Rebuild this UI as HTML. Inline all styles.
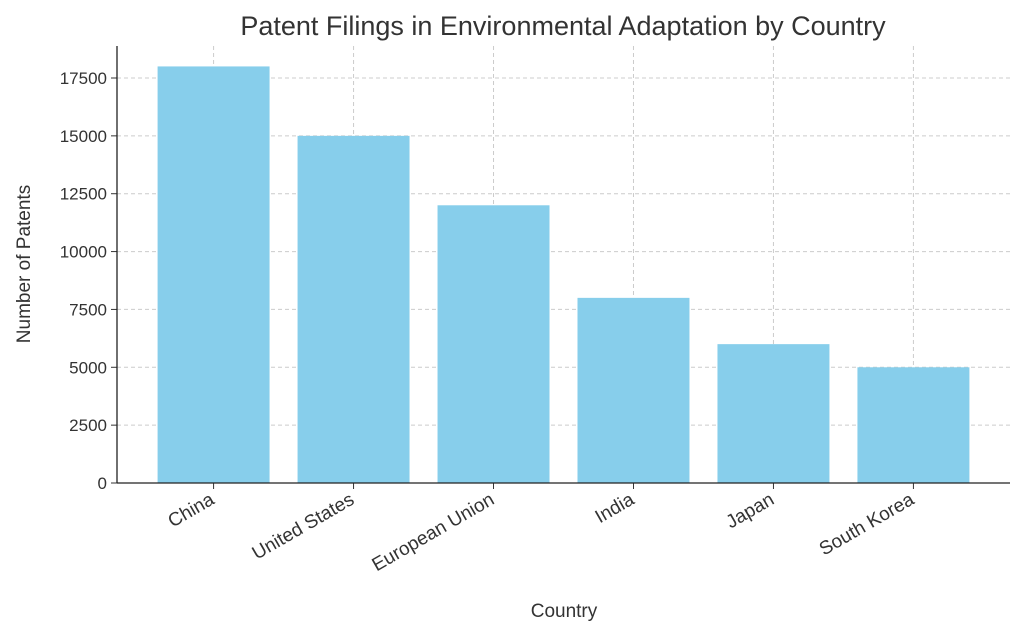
<!DOCTYPE html>
<html><head><meta charset="utf-8"><style>
body{margin:0;background:#fff;}
svg text{font-family:"Liberation Sans","DejaVu Sans",sans-serif;fill:#333;}
</style></head><body>
<svg id="chart" width="1024" height="635" xmlns="http://www.w3.org/2000/svg">
<text x="563" y="35" font-size="27" text-anchor="middle">Patent Filings in Environmental Adaptation by Country</text>
<g id="grid"></g><g id="bars"></g><g id="axes"></g>
<text x="564" y="617" font-size="19" text-anchor="middle">Country</text>
<text transform="translate(30,264) rotate(-90)" font-size="19" text-anchor="middle">Number of Patents</text>
</svg>
<script>
const categories=["China","United States","European Union","India","Japan","South Korea"];
const values=[18000,15000,12000,8000,6000,5000];
const yTicks=[0,2500,5000,7500,10000,12500,15000,17500];
const NS="http://www.w3.org/2000/svg";
const L=117,R=1010,B=483,T=46;
const xMin=-0.69,xMax=categories.length-1+0.69;
const yMax=18900;
function x(i){return L+(i-xMin)/(xMax-xMin)*(R-L);}
function y(v){return B-v/17500*(B-78);}
const bw=0.8*(x(1)-x(0));
function mk(tag,attrs,parent){const e=document.createElementNS(NS,tag);for(const k in attrs)e.setAttribute(k,attrs[k]);document.getElementById(parent).appendChild(e);return e;}
yTicks.forEach(t=>{
 const g=mk('line',{x1:L,x2:R,y1:y(t),y2:y(t),stroke:'#ccc','stroke-dasharray':'4,3','stroke-width':1},'grid');
 
 
 const tk=mk('line',{x1:L-6,x2:L,y1:y(t),y2:y(t),stroke:'#333'},'axes');
 
 
 const lb=mk('text',{x:L-10,y:y(t)+6,'font-size':17,'text-anchor':'end'},'axes');
 lb.textContent=t;
 
 
});
categories.forEach((c,i)=>{
 const g=mk('line',{x1:x(i),x2:x(i),y1:T,y2:B,stroke:'#ccc','stroke-dasharray':'4,3'},'grid');
 
 
 const r=mk('rect',{x:x(i)-bw/2,y:y(values[i]),width:bw,height:B-y(values[i]),fill:'#87ceeb'},'bars');
 
 
 const tk=mk('line',{x1:x(i),x2:x(i),y1:B,y2:B+6,stroke:'#333'},'axes');
 
 
 const lb=mk('text',{transform:`translate(${x(i)+2},${B+20}) rotate(-30)`,'font-size':19,'text-anchor':'end'},'axes');
 lb.textContent=c;
 
 
});
const la=mk('line',{x1:L,x2:L,y1:T,y2:B,stroke:'#222','stroke-width':1.3},'axes');


const ba=mk('line',{x1:L,x2:R,y1:B,y2:B,stroke:'#222','stroke-width':1.3},'axes');


</script>
</body></html>
